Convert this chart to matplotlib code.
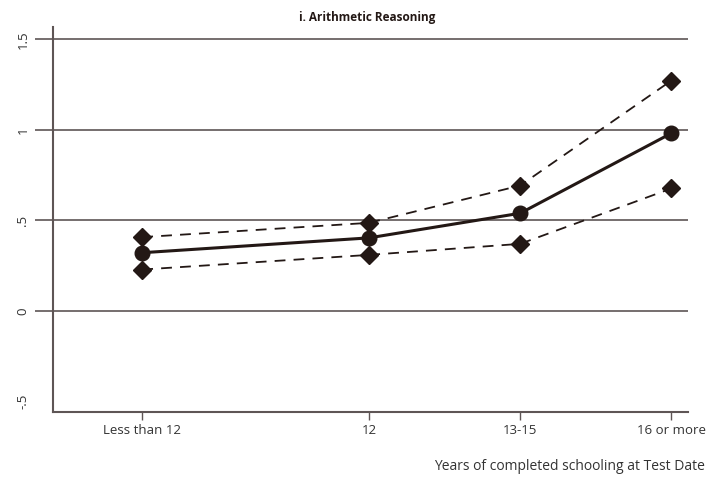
import matplotlib.pyplot as plt

# estimates by schooling level, with upper/lower confidence bounds
categories = ["Less than 12", "12", "13-15", "16 or more"]
xpos = [9, 12, 14, 16]
estimate = [0.322, 0.404, 0.540, 0.982]
upper = [0.408, 0.487, 0.693, 1.273]
lower = [0.229, 0.310, 0.371, 0.677]
yticks = [-0.5, 0, 0.5, 1, 1.5]
yticklabels = ["-.5", "0", ".5", "1", "1.5"]

ink = "#231815"
grid = "#5e5555"

plt.rcParams['font.family'] = ['Open Sans', 'DejaVu Sans']

fig = plt.figure(figsize=(7.08, 4.79), dpi=100)
ax = fig.add_axes([53/708, 67/479, 635/708, 385/479])

for y in yticks[1:]:
    ax.axhline(y, color=grid, lw=1.2, zorder=1)

ax.plot(xpos, upper, color=ink, lw=1.3, ls=(0, (6, 4.5)), marker="D", ms=9.5, zorder=3)
ax.plot(xpos, lower, color=ink, lw=1.3, ls=(0, (6, 4.5)), marker="D", ms=9.5, zorder=3)
ax.plot(xpos, estimate, color=ink, lw=2.2, marker="o", ms=10.5, zorder=4)

ax.set_xlim(7.82, 16.22)
ax.set_ylim(-0.558, 1.569)
ax.set_xticks(xpos)
ax.set_xticklabels(categories, fontsize=9.5, color="#333333")
ax.set_yticks(yticks)
ax.set_yticklabels(yticklabels, rotation=90, va="center", fontsize=9.5, color="#333333")
ax.tick_params(axis="y", length=13, width=1.2, color=grid, pad=4)
ax.tick_params(axis="x", length=6, width=1.0, color=grid, pad=3)
ax.yaxis.get_major_ticks()[0].tick1line.set_visible(False)

for side in ["top", "right"]:
    ax.spines[side].set_visible(False)
for side in ["left", "bottom"]:
    ax.spines[side].set_color(grid)
    ax.spines[side].set_linewidth(1.5)

fig.text(367/708, 1 - 17/479, "i. Arithmetic Reasoning", ha="center", va="center",
         fontsize=8.5, fontweight="bold", color=ink)
fig.text(705/708, 1 - 467/479, "Years of completed schooling at Test Date", ha="right",
         va="center", fontsize=10, color="#333333")

fig.savefig("out.png", dpi=100)
